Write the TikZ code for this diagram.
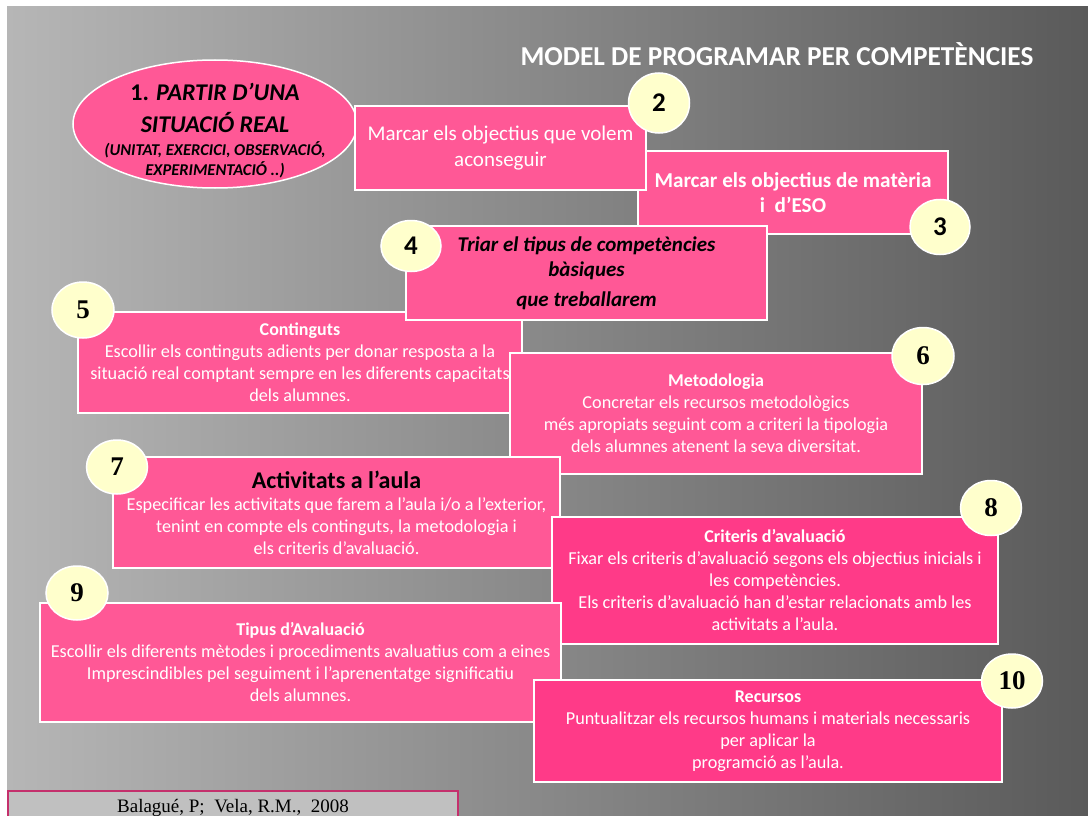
\documentclass[tikz,border=0pt]{standalone}
\usepackage{fontspec}
\setmainfont{Carlito}
\newfontfamily\numfont{Liberation Serif}
\usetikzlibrary{shapes.geometric}
\definecolor{pinkA}{HTML}{FF5896}
\definecolor{pinkB}{HTML}{FF3A88}
\definecolor{numfill}{HTML}{FFFFCC}
\definecolor{bgL}{HTML}{B6B6B6}
\definecolor{bgM}{HTML}{868686}
\definecolor{bgR}{HTML}{5A5A5A}
\definecolor{refbg}{HTML}{C0C0C0}
\definecolor{refline}{HTML}{C4306C}
\tikzset{
  pbox/.style={draw=white, line width=1.5pt, fill=pinkA, inner sep=0pt, text=white, align=center,
    font=\fontsize{18.2}{22}\selectfont},
  numc/.style={ellipse, draw=white, line width=1.5pt, fill=numfill, inner sep=0pt, text=black,
    minimum width=61pt, minimum height=56pt},
  numsans/.style={numc, font=\bfseries\fontsize{27}{27}\selectfont},
  numserif/.style={numc, font=\numfont\bfseries\fontsize{27}{27}\selectfont}
}
\newcommand{\hd}[1]{{\bfseries\fontsize{18}{22}\selectfont #1}}
\begin{document}
\begin{tikzpicture}[x=1pt,y=-1pt]
\useasboundingbox (0,0) rectangle (1088,816);
\fill[white] (0,0) rectangle (1088,816);
\shade[left color=bgL, middle color=bgM, right color=bgR] (7,7) rectangle (1088,816);

\node[text=white, font=\bfseries\fontsize{27.3}{27}\selectfont] (title) at (777,54) {MODEL DE PROGRAMAR PER COMPETÈNCIES};

\node[ellipse, draw=white, line width=1.5pt, fill=pinkA, minimum width=284pt, minimum height=128pt, inner sep=0pt] (e1) at (215,124) {};
\node[align=center, text=black, font=\bfseries\fontsize{24}{32}\selectfont] (e1t) at (215,131)
  {1. \textit{PARTIR D’UNA}\\ \textit{SITUACIÓ REAL}\\[-9pt]
   {\fontsize{16.5}{20}\selectfont\textit{(UNITAT, EXERCICI, OBSERVACIÓ,}}\\[-12pt]
   {\fontsize{16.5}{20}\selectfont\textit{EXPERIMENTACIÓ ..)}}};

\node[pbox, minimum width=310pt, minimum height=83pt, font=\bfseries\fontsize{21.2}{25}\selectfont] (b3) at (793,192.5)
  {Marcar els objectius de matèria\\i\ \ d’ESO};
\node[pbox, minimum width=291pt, minimum height=84pt, font=\fontsize{21}{26}\selectfont] (b2) at (500.5,148)
  {Marcar els objectius que volem\\aconseguir};
\node[numsans, minimum width=61pt, minimum height=60pt] (c2) at (659,103) {2};
\node[numsans, minimum width=60pt, minimum height=55pt] (c3) at (940,227) {3};

\node[pbox, minimum width=444pt, minimum height=101pt] (b5) at (300,362.5)
  {\hd{Continguts}\\Escollir els continguts adients per donar resposta a la\\situació real comptant sempre en les diferents capacitats\\dels alumnes.};
\node[pbox, minimum width=361pt, minimum height=94pt, text=black, font=\bfseries\itshape\fontsize{21}{25}\selectfont] (b4) at (586.5,273)
  {Triar el tipus de competències\\bàsiques\\[5pt]que treballarem};
\node[numsans, minimum width=60pt, minimum height=51pt] (c4) at (411,246) {4};
\node[numserif, minimum width=62pt, minimum height=56pt] (c5) at (83,310) {5};

\node[pbox, minimum width=412pt, minimum height=121pt] (b6) at (716,413.5)
  {\hd{Metodologia}\\Concretar els recursos metodològics\\més apropiats seguint com a criteri la tipologia\\dels alumnes atenent la seva diversitat.};
\node[numserif, minimum width=62pt, minimum height=57pt] (c6) at (923,356) {6};

\node[pbox, minimum width=447pt, minimum height=111pt] (b7) at (336.5,512.5)
  {{\color{black}\bfseries\fontsize{24}{26}\selectfont Activitats a l’aula}\\Especificar les activitats que farem a l’aula i/o a l’exterior,\\tenint en compte els continguts, la metodologia i\\els criteris d’avaluació.};
\node[numserif, minimum width=61pt, minimum height=54pt] (c7) at (117,467) {7};

\node[pbox, fill=pinkB, minimum width=446pt, minimum height=127pt] (b8) at (775,580.5)
  {\hd{Criteris d’avaluació}\\Fixar els criteris d’avaluació segons els objectius inicials i\\les competències.\\Els criteris d’avaluació han d’estar relacionats amb les\\activitats a l’aula.};
\node[numserif, minimum width=61pt, minimum height=55pt] (c8) at (991,508) {8};

\node[pbox, minimum width=521pt, minimum height=119pt] (b9) at (300.5,662.5)
  {\hd{Tipus d’Avaluació}\\Escollir els diferents mètodes i procediments avaluatius com a eines\\Imprescindibles pel seguiment i l’aprenentatge significatiu\\dels alumnes.};
\node[numserif, minimum width=62pt, minimum height=54pt] (c9) at (77,593) {9};

\node[pbox, fill=pinkB, minimum width=468pt, minimum height=102pt] (b10) at (768,731)
  {\hd{Recursos}\\Puntualitzar els recursos humans i materials necessaris\\per aplicar la\\programció as l’aula.};
\node[numserif, minimum width=61pt, minimum height=54pt] (c10) at (1012,681) {10};

\node[draw=refline, line width=2pt, fill=refbg, minimum width=450pt, minimum height=34pt, inner sep=0pt,
  font=\numfont\fontsize{19}{20}\selectfont, text=black, anchor=north west] (ref) at (7,790)
  {\raisebox{5pt}{Balagué, P;\ \ Vela, R.M.,\ \ 2008}};
\end{tikzpicture}
\end{document}
